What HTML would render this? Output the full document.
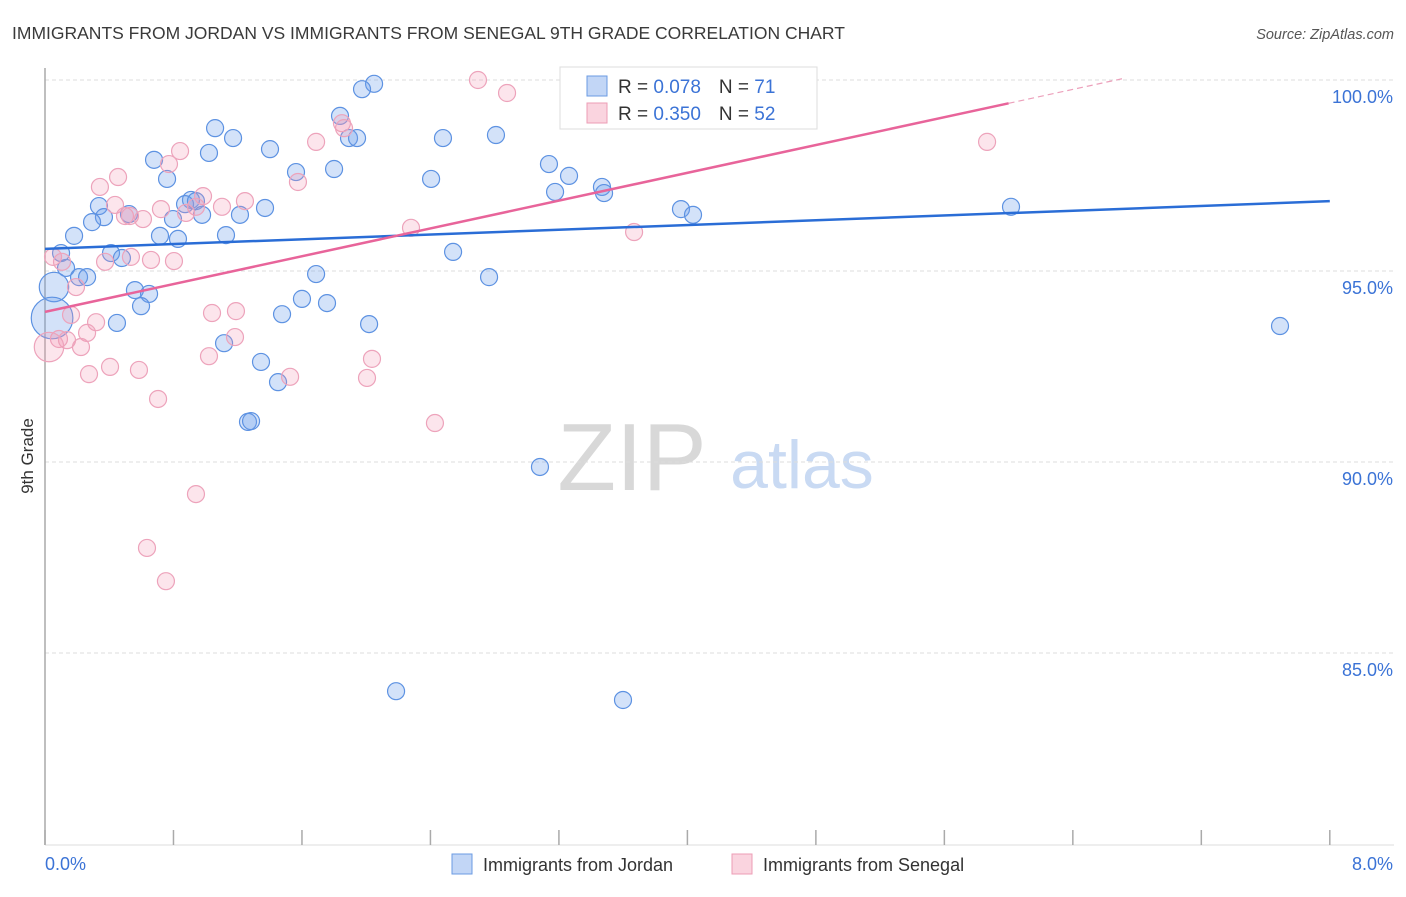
<!DOCTYPE html>
<html><head><meta charset="utf-8"><style>
body{margin:0;background:#fff;font-family:"Liberation Sans",sans-serif;}
svg text{font-family:"Liberation Sans",sans-serif;}
</style></head><body>
<svg id="chart" width="1406" height="892" xmlns="http://www.w3.org/2000/svg">
<text x="12" y="39" font-size="17.5" fill="#3a3a3a">IMMIGRANTS FROM JORDAN VS IMMIGRANTS FROM SENEGAL 9TH GRADE CORRELATION CHART</text>
<text x="1394" y="39" font-size="14.5" fill="#555" text-anchor="end" font-style="italic">Source: ZipAtlas.com</text>
<g>
<text x="632" y="490" font-size="96" fill="#d8d8d8" font-family="Liberation Serif, serif" text-anchor="middle">ZIP</text>
<text x="802" y="488" font-size="68" fill="#c9daf3" text-anchor="middle">atlas</text>
</g>
<g id="grid"></g>
<g id="axes"></g>
<g id="marks"></g>
<g id="trends"></g>
<g>
<rect x="560" y="67" width="257" height="62" fill="#fff" stroke="#ddd"/>
<rect x="587" y="76" width="20" height="20" fill="rgba(120,165,235,0.45)" stroke="#6b9be3"/>
<rect x="587" y="103" width="20" height="20" fill="rgba(245,160,185,0.45)" stroke="#ec9db6"/>
<text x="618" y="93" font-size="19" fill="#333">R = <tspan fill="#3b73d6">0.078</tspan><tspan dx="18">N = </tspan><tspan fill="#3b73d6">71</tspan></text>
<text x="618" y="120" font-size="19" fill="#333">R = <tspan fill="#3b73d6">0.350</tspan><tspan dx="18">N = </tspan><tspan fill="#3b73d6">52</tspan></text>
</g>
<g>
<rect x="452" y="854" width="20" height="20" fill="rgba(120,165,235,0.45)" stroke="#6b9be3"/>
<text x="483" y="871" font-size="18" fill="#333">Immigrants from Jordan</text>
<rect x="732" y="854" width="20" height="20" fill="rgba(245,160,185,0.45)" stroke="#ec9db6"/>
<text x="763" y="871" font-size="18" fill="#333">Immigrants from Senegal</text>
</g>
<text transform="translate(33,456) rotate(-90)" font-size="17" fill="#333" text-anchor="middle">9th Grade</text>
</svg>
<script>
const yTicks=[100,95,90,85];
const yTickLabels=["100.0%","95.0%","90.0%","85.0%"];
const xTicks=[0,0.8,1.6,2.4,3.2,4,4.8,5.6,6.4,7.2,8];
const xEndLabels=["0.0%","8.0%"];
const jordanX=[2.049,1.974,1.837,1.893,1.943,2.478,2.808,1.059,1.171,1.401,1.021,0.679,0.760,1.563,1.800,2.404,3.138,3.263,3.468,3.481,3.176,1.370,0.909,0.872,0.940,0.978,1.214,0.797,0.336,0.367,0.523,0.293,0.181,0.716,0.828,1.127,0.100,0.411,0.479,0.131,0.212,0.262,1.688,2.765,2.541,0.560,0.648,0.598,1.600,1.756,1.476,0.448,2.018,1.115,1.345,1.451,1.264,1.283,3.082,2.186,3.599,3.960,4.035,6.015,7.690,0.056,0.044,3.400,4.315,3.717];
const jordanY=[99.90,99.76,99.06,98.48,98.48,98.48,98.56,98.74,98.48,98.19,98.09,97.91,97.41,97.59,97.67,97.41,97.80,97.49,97.20,97.04,97.07,96.65,96.86,96.75,96.83,96.47,96.47,96.36,96.70,96.41,96.49,96.28,95.92,95.92,95.84,95.94,95.47,95.47,95.34,95.08,94.84,94.84,94.92,94.84,95.50,94.50,94.40,94.08,94.27,94.16,93.87,93.64,93.61,93.11,92.62,92.09,91.05,91.07,89.87,84.00,83.77,96.62,96.47,96.68,93.56,94.58,93.77,100.0,100.0,99.40];
const jordanW=[1,1,1,1,1,1,1,1,1,1,1,1,1,1,1,1,1,1,1,1,1,1,1,1,1,1,1,1,1,1,1,1,1,1,1,1,1,1,1,1,1,1,1,1,1,1,1,1,1,1,1,1,1,1,1,1,1,1,1,1,1,1,1,1,1,3,6,1,1,1];
const senegalX=[2.696,2.877,1.849,1.862,1.688,0.841,0.772,1.575,0.455,0.342,0.984,1.102,1.245,0.436,0.940,0.722,0.878,0.498,0.529,0.610,2.279,3.668,5.866,0.050,0.106,0.374,0.535,0.660,0.803,0.193,1.040,1.189,0.162,0.318,0.262,1.183,0.087,0.137,0.224,0.025,1.021,2.036,0.405,0.585,0.274,1.526,2.005,0.704,2.428,0.940,0.635,0.753,3.450];
const senegalY=[100.0,99.66,98.87,98.74,98.38,98.14,97.80,97.33,97.46,97.20,96.96,96.68,96.83,96.73,96.68,96.62,96.52,96.44,96.44,96.36,96.13,96.02,98.38,95.37,95.24,95.24,95.37,95.29,95.26,94.58,93.90,93.95,93.85,93.66,93.38,93.27,93.22,93.19,93.01,93.01,92.77,92.70,92.49,92.41,92.30,92.23,92.20,91.65,91.02,89.16,87.75,86.88,100.0];
const senegalW=[1,1,1,1,1,1,1,1,1,1,1,1,1,1,1,1,1,1,1,1,1,1,1,1,1,1,1,1,1,1,1,1,1,1,1,1,1,1,1,3,1,1,1,1,1,1,1,1,1,1,1,1,1];
const jordanTrend=[95.58,0.156]; // intercept, slope
const senegalTrend=[93.93,0.910];
const senegalSolidEnd=6.0, senegalDashEnd=6.72;

const NS="http://www.w3.org/2000/svg";
const X=v=>45+v*160.6;
const Y=v=>80+(100-v)*38.2;
function mk(tag,parent,attrs){const e=document.createElementNS(NS,tag);for(const k in attrs)e.setAttribute(k,attrs[k]);parent.appendChild(e);return e;}
const grid=document.getElementById('grid'),axes=document.getElementById('axes'),marks=document.getElementById('marks'),trends=document.getElementById('trends');
yTicks.forEach((t,i)=>{
  const l=mk('line',grid,{x1:45,x2:1394,y1:Y(t),y2:Y(t),stroke:'#ddd','stroke-dasharray':'4,3'});
  
  
  const tx=mk('text',axes,{x:1393,y:Y(t)+23,'font-size':18,fill:'#3b73d6','text-anchor':'end'});
  tx.textContent=yTickLabels[i];
  
  
});
const ya=mk('line',axes,{x1:45,x2:45,y1:68,y2:845,stroke:'#aaa','stroke-width':1.5});


const xa=mk('line',axes,{x1:45,x2:1394,y1:845,y2:845,stroke:'#ddd'});


xTicks.forEach(t=>{
  const l=mk('line',axes,{x1:X(t),x2:X(t),y1:830,y2:845,stroke:'#aaa','stroke-width':1.5});
  
  
});
[[0,'start',45],[1,'end',1393]].forEach(([i,a,x])=>{
  const tx=mk('text',axes,{x:x,y:870,'font-size':18,fill:'#3b73d6','text-anchor':a});
  tx.textContent=xEndLabels[i];
  
  
});
function pts(xs,ys,ws,fill,stroke,name){
  xs.forEach((x,i)=>{
    const c=mk('circle',marks,{cx:X(x),cy:Y(ys[i]),r:8.5*Math.sqrt(ws[i]),fill:fill,stroke:stroke,'stroke-width':1.2});
    
    
  });
}
pts(jordanX,jordanY,jordanW,'rgba(110,160,235,0.3)','#5d92e2','point-jordan');
pts(senegalX,senegalY,senegalW,'rgba(245,150,180,0.25)','#eda3bb','point-senegal');
const bl=mk('line',trends,{x1:X(0),y1:Y(jordanTrend[0]),x2:X(8),y2:Y(jordanTrend[0]+8*jordanTrend[1]),stroke:'#2a6dd6','stroke-width':2.5});


const pl=mk('line',trends,{x1:X(0),y1:Y(senegalTrend[0]),x2:X(senegalSolidEnd),y2:Y(senegalTrend[0]+senegalSolidEnd*senegalTrend[1]),stroke:'#e8649a','stroke-width':2.5});


const pd=mk('line',trends,{x1:X(senegalSolidEnd),y1:Y(senegalTrend[0]+senegalSolidEnd*senegalTrend[1]),x2:X(senegalDashEnd),y2:Y(senegalTrend[0]+senegalDashEnd*senegalTrend[1]),stroke:'#eca0bb','stroke-width':1.2,'stroke-dasharray':'6,4'});


</script>
</body></html>
